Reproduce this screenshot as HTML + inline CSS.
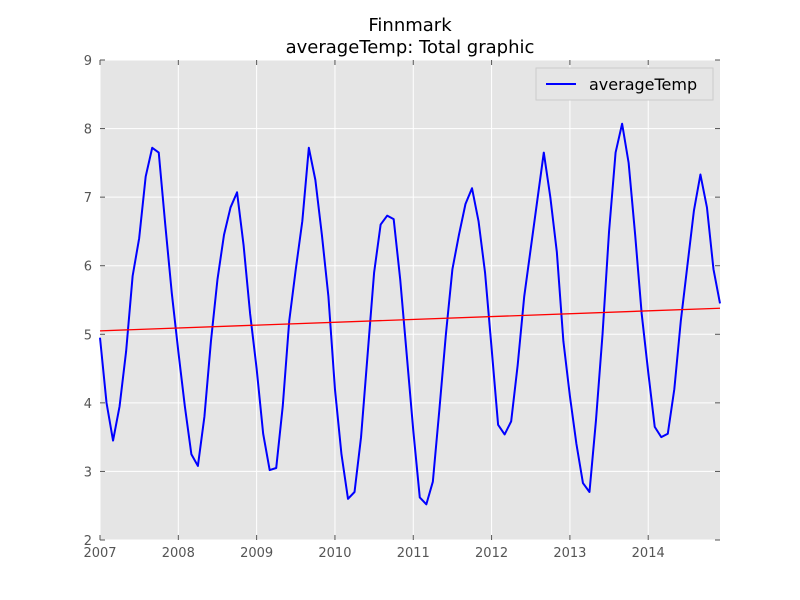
<!DOCTYPE html>
<html><head><meta charset="utf-8"><style>
html,body{margin:0;padding:0;background:#fff;}
svg{display:block;font-family:"DejaVu Sans","Liberation Sans",sans-serif;}
</style></head><body>
<svg id="chart" width="800" height="600" viewBox="0 0 800 600">
<text x="410" y="31" text-anchor="middle" font-size="18" fill="#000">Finnmark</text>
<text x="410" y="53" text-anchor="middle" font-size="18" fill="#000">averageTemp: Total graphic</text>
<rect x="100" y="60" width="620" height="480" fill="#e5e5e5"/>
<g id="grid"></g><g id="ticks"></g><g id="series"></g>
<g>
<rect x="536" y="68" width="177" height="32" fill="#e5e5e5" stroke="#ccc" stroke-width="1"/>
<line x1="546" y1="84" x2="576" y2="84" stroke="#0000ff" stroke-width="2"/>
<text x="589" y="90" font-size="16" fill="#000">averageTemp</text>
</g>
</svg>
<script>
const values = [4.95,4.0,3.45,3.95,4.75,5.85,6.4,7.3,7.72,7.65,6.6,5.6,
4.75,3.95,3.25,3.08,3.8,4.9,5.8,6.45,6.85,7.07,6.3,5.3,
4.5,3.55,3.02,3.05,3.95,5.2,5.95,6.65,7.72,7.25,6.45,5.55,
4.2,3.25,2.6,2.7,3.5,4.7,5.9,6.6,6.73,6.68,5.8,4.7,
3.6,2.62,2.52,2.85,3.9,5.0,5.95,6.45,6.9,7.13,6.65,5.9,
4.8,3.68,3.54,3.73,4.55,5.55,6.25,6.95,7.65,7.0,6.2,4.9,
4.1,3.4,2.83,2.7,3.75,5.0,6.5,7.65,8.07,7.5,6.45,5.3,
4.45,3.65,3.5,3.55,4.2,5.2,6.0,6.8,7.33,6.85,5.95,5.45];
const startYear = 2007;
const trendStart = 5.05;
const trendEnd = 5.38;
const xTicks = [2007,2008,2009,2010,2011,2012,2013,2014];
const yTicks = [2,3,4,5,6,7,8,9];

const X0=100,X1=720,Y0=60,Y1=540;
const xMin=2007, xMax=2007+95/12;
const xs=v=>X0+(v-xMin)/(xMax-xMin)*(X1-X0);
const ys=v=>Y1-(v-2)/(9-2)*(Y1-Y0);
const NS="http://www.w3.org/2000/svg";
function mk(tag,attrs,parent){const e=document.createElementNS(NS,tag);for(const k in attrs)e.setAttribute(k,attrs[k]);parent.appendChild(e);return e;}
const grid=document.getElementById('grid'),ticks=document.getElementById('ticks'),series=document.getElementById('series');
xTicks.forEach(t=>{const x=xs(t);
 const g=mk('line',{x1:x,y1:Y0,x2:x,y2:Y1,stroke:'#fff','stroke-width':1},grid);
 
 
 const a=mk('line',{x1:x,y1:Y1,x2:x,y2:Y1-5,stroke:'#555'},ticks);
 
 
 const b=mk('line',{x1:x,y1:Y0,x2:x,y2:Y0+5,stroke:'#555'},ticks);
 
 
 const l=mk('text',{x:x,y:Y1+17,'text-anchor':'middle','font-size':13,fill:'#555'},ticks);
 l.textContent=t;
 
 
});
yTicks.forEach(t=>{const y=ys(t);
 const g=mk('line',{x1:X0,y1:y,x2:X1,y2:y,stroke:'#fff','stroke-width':1},grid);
 
 
 const a=mk('line',{x1:X0,y1:y,x2:X0+5,y2:y,stroke:'#555'},ticks);
 
 
 const b=mk('line',{x1:X1,y1:y,x2:X1-5,y2:y,stroke:'#555'},ticks);
 
 
 const l=mk('text',{x:X0-8,y:y+5,'text-anchor':'end','font-size':13,fill:'#555'},ticks);
 l.textContent=t;
 
 
});
const pts=values.map((v,i)=>xs(startYear+i/12).toFixed(2)+','+ys(v).toFixed(2)).join(' ');
const line=mk('polyline',{points:pts,fill:'none',stroke:'#0000ff','stroke-width':2,'stroke-linejoin':'round'},series);


const tl=mk('line',{x1:xs(xMin),y1:ys(trendStart),x2:xs(xMax),y2:ys(trendEnd),stroke:'#ff0000','stroke-width':1.3},series);


</script>
</body></html>
